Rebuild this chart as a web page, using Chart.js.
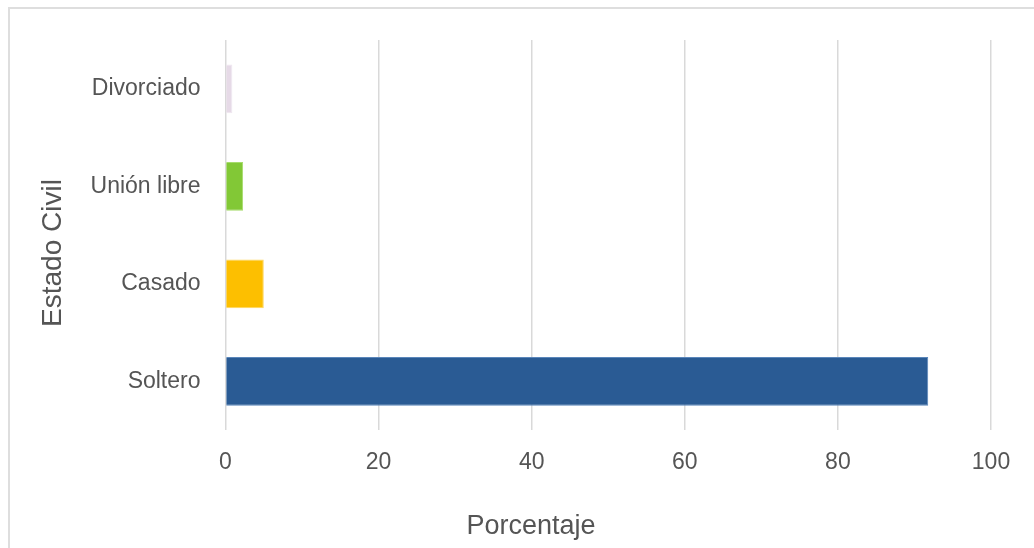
<!DOCTYPE html>
<html>
<head>
<meta charset="utf-8">
<script src="https://cdn.jsdelivr.net/npm/chart.js@4"></script>
<style>
  body { margin: 0; background: #fff; }
  #frame { position: absolute; left: 8px; top: 7px; right: 0; bottom: 0; border-top: 2px solid #dedede; border-left: 2px solid #dedede; }
  #myChart { position: absolute; left: 0; top: 0; }
</style>
</head>
<body>
<div id="frame"></div>
<canvas id="myChart" width="1034" height="548"></canvas>
<script>
const categories = ['Divorciado', 'Unión libre', 'Casado', 'Soltero'];
const percentages = [0.9, 2.3, 5.0, 91.8];
const barColors = ['#e6dae7', '#82c836', '#fdbf00', '#2a5b94'];
const barEdges = ['#efe6f0', '#a6dc6c', '#fed65c', '#5a86ba'];
const xTicks = [0, 20, 40, 60, 80, 100];
const xTitle = 'Porcentaje';
const yTitle = 'Estado Civil';

const fontFamily = '"Liberation Sans", Arial, sans-serif';
Chart.defaults.font.family = fontFamily;
Chart.defaults.color = '#555555';

// axis titles are centred on the whole frame, not on the plot area
const axisTitles = {
    id: 'axisTitles',
    afterDraw(chart) {
        const c = chart.ctx;
        c.save();
        c.fillStyle = '#555555';
        c.textAlign = 'center';
        c.textBaseline = 'middle';
        c.font = '27px ' + fontFamily;
        c.fillText(xTitle, 531, 527);
        c.translate(53, 253);
        c.rotate(-Math.PI / 2);
        c.font = '28px ' + fontFamily;
        c.fillText(yTitle, 0, 0);
        c.restore();
    }
};

let ctx = document.getElementById('myChart').getContext('2d');
let myChart = new Chart(ctx, {
    type: 'bar',
    data: {
        labels: categories,
        datasets: [{
            label: xTitle,
            data: percentages,
            backgroundColor: barColors,
            borderColor: barEdges,
            borderWidth: 1,
            barPercentage: 0.5,
            categoryPercentage: 1
        }]
    },
    options: {
        indexAxis: 'y',
        responsive: false,
        animation: false,
        layout: { padding: { left: 10, top: 40, right: 43, bottom: 0 } },
        plugins: {
            legend: { display: false },
            tooltip: { enabled: false }
        },
        scales: {
            x: {
                min: 0,
                max: 100,
                afterBuildTicks: (scale) => { scale.ticks = xTicks.map(v => ({ value: v })); },
                grid: { color: '#d9d9d9', lineWidth: 1.5, drawTicks: false },
                border: { display: false },
                ticks: { font: { size: 23 }, padding: 19 },
                afterFit: (scale) => { scale.height = 118; }
            },
            y: {
                grid: { display: false },
                border: { display: false },
                ticks: { font: { size: 23 }, padding: 17 },
                afterFit: (scale) => { scale.width = 215.5; }
            }
        }
    },
    plugins: [axisTitles]
});
</script>
</body>
</html>
